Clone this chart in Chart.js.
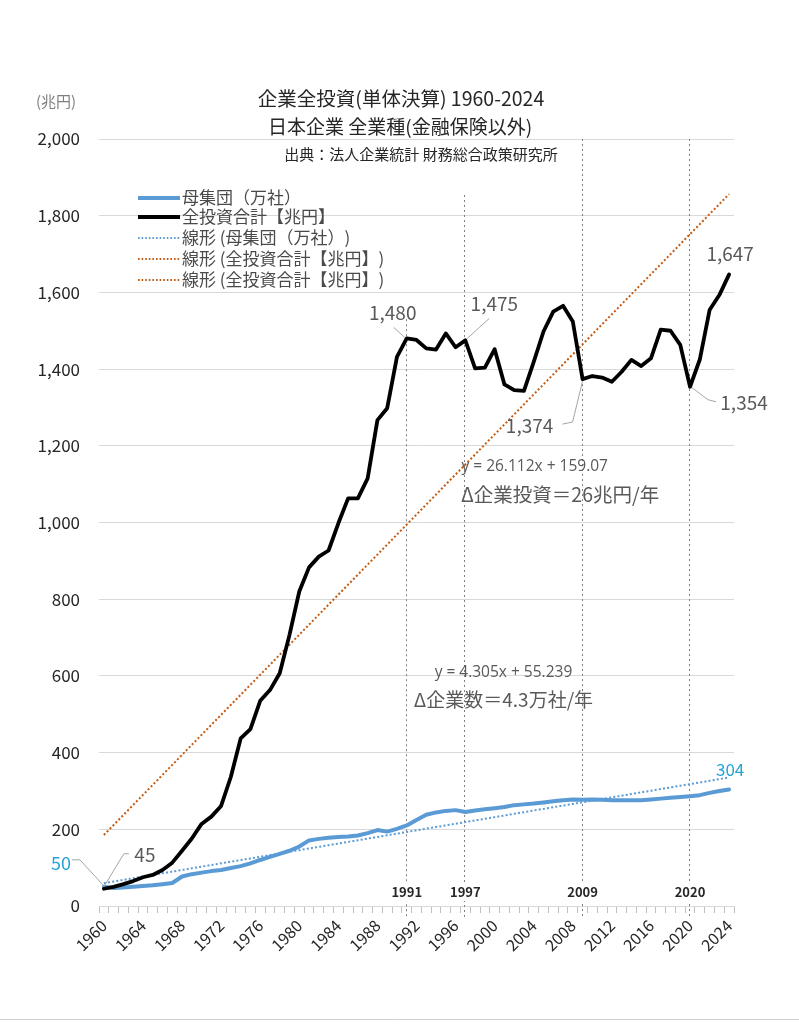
<!DOCTYPE html>
<html><head><meta charset="utf-8">
<script src="https://cdn.jsdelivr.net/npm/chart.js@4.4.1/dist/chart.umd.min.js"></script>
<style>html,body{margin:0;padding:0;background:#fff;}canvas{display:block;}</style>
</head><body>
<canvas id="c" width="799" height="1024"></canvas>
<script>
// ---- data ----
const years = [1960,1961,1962,1963,1964,1965,1966,1967,1968,1969,1970,1971,1972,1973,1974,1975,1976,1977,1978,1979,
  1980,1981,1982,1983,1984,1985,1986,1987,1988,1989,1990,1991,1992,1993,1994,1995,1996,1997,1998,1999,
  2000,2001,2002,2003,2004,2005,2006,2007,2008,2009,2010,2011,2012,2013,2014,2015,2016,2017,2018,2019,
  2020,2021,2022,2023,2024];
const investTotal = [45,50,57,65,75,81,94,113,144,176,214,233,261,337,437,461,535,563,607,707,
  820,883,911,927,998,1063,1063,1115,1267,1298,1432,1480,1476,1454,1451,1493,1457,1475,1402,1404,
  1452,1360,1345,1343,1419,1498,1550,1565,1524,1374,1382,1378,1367,1393,1424,1408,1428,1503,1500,1463,
  1354,1425,1554,1593,1647];
const firmCount = [50,47,48,50,52,54,57,60,77,83,87,91,94,99,104,111,120,128,136,144,
  155,171,175,178,180,181,184,190,198,194,201,210,224,238,244,248,250,245,249,252,
  255,258,263,265,267,270,273,276,278,277,278,277,276,276,276,276,278,280,282,284,
  286,289,295,300,304];
const investTrendCoef = [26.112, 159.07];   // slope, intercept (Excel x = 1..n)
const firmTrendCoef = [4.305, 55.239];
const yTicks = [0,200,400,600,800,1000,1200,1400,1600,1800,2000];
const markYears = [1991,1997,2009,2020];
const legendLabels = ['母集団（万社）','全投資合計【兆円】','線形 (母集団（万社）)','線形 (全投資合計【兆円】)','線形 (全投資合計【兆円】)'];

const investTrend = years.map((_, i) => investTrendCoef[0]*(i+1) + investTrendCoef[1]);
const firmTrend = years.map((_, i) => firmTrendCoef[0]*(i+1) + firmTrendCoef[1]);

const FONT = '"Noto Sans CJK JP", "Noto Sans", sans-serif';
const LATIN = '"Open Sans", "Noto Sans CJK JP", sans-serif';
const BLUE = '#5b9bd5', BLACK = '#000000', ORANGE = '#c55a11', CYAN = '#27a3d6';
const GRAY_TXT = '#595959';

function fmt(v){ return v.toLocaleString('en-US'); }

const overlay = {
  id: 'overlay',
  beforeDatasetsDraw(chart){
    const {ctx, chartArea: a, scales:{x, y}} = chart;
    ctx.save();
    ctx.strokeStyle = '#7f7f7f'; ctx.lineWidth = 1; ctx.setLineDash([2,3]);
    const tops = {1991: 1530, 1997: 1854, 2009: 2000, 2020: 2000};
    markYears.forEach(yr => {
      const px = Math.round(x.getPixelForValue(years.indexOf(yr))) - 0.5;
      ctx.beginPath();
      ctx.moveTo(px, y.getPixelForValue(tops[yr]));
      ctx.lineTo(px, a.bottom + 12);
      ctx.stroke();
    });
    ctx.setLineDash([]);
    ctx.font = '600 13px ' + FONT; ctx.textAlign = 'center'; ctx.textBaseline = 'middle';
    markYears.forEach(yr => {
      const px = x.getPixelForValue(years.indexOf(yr));
      const w = ctx.measureText(String(yr)).width;
      ctx.fillStyle = '#fff';
      ctx.fillRect(px - w/2 - 2, a.bottom - 23, w + 4, 18);
      ctx.fillStyle = '#262626';
      ctx.fillText(String(yr), px, a.bottom - 14);
    });
    ctx.restore();
  },
  afterDraw(chart){
    const {ctx, chartArea: a, scales:{x, y}} = chart;
    const x0 = x.getPixelForValue(0), step = x.getPixelForValue(1) - x0;
    const P = (i, v) => [x0 + i*step, y.getPixelForValue(v)];
    ctx.save();
    ctx.textAlign = 'center'; ctx.textBaseline = 'middle';
    ctx.fillStyle = '#262626';
    ctx.font = '19.5px ' + FONT;
    ctx.fillText('企業全投資(単体決算) 1960-2024', 401, 99);
    ctx.font = '19px ' + FONT;
    ctx.fillText('日本企業 全業種(金融保険以外)', 400, 127);
    ctx.font = '15px ' + FONT;
    ctx.fillText('出典：法人企業統計 財務総合政策研究所', 421, 154);
    ctx.fillStyle = '#7f7f7f'; ctx.font = '15px ' + FONT;
    ctx.fillText('(兆円)', 56, 101);

    // legend
    const lg = [
      {c: BLUE, w: 4, dash: []},
      {c: BLACK, w: 4, dash: []},
      {c: BLUE, w: 1.8, dash: [1.6,2]},
      {c: ORANGE, w: 1.8, dash: [1.6,2]},
      {c: ORANGE, w: 1.8, dash: [1.6,2]},
    ];
    const ly = [198, 217, 238, 259, 280];
    ctx.textAlign = 'left'; ctx.font = '17px ' + FONT;
    lg.forEach((s, k) => {
      ctx.strokeStyle = s.c; ctx.lineWidth = s.w; ctx.setLineDash(s.dash);
      ctx.beginPath(); ctx.moveTo(138, ly[k]); ctx.lineTo(180, ly[k]); ctx.stroke();
      ctx.setLineDash([]);
      ctx.fillStyle = '#4a4a4a';
      ctx.fillText(legendLabels[k], 182, ly[k]);
    });

    // data labels with leaders
    ctx.lineWidth = 1; ctx.strokeStyle = '#a6a6a6';
    const lab = (i, v, text, dx, dy, color, leader, size) => {
      const [px, py] = P(i, v);
      if (leader) {
        ctx.beginPath();
        leader.forEach((pt, k) => { const f = k ? 'lineTo' : 'moveTo'; ctx[f](px + pt[0], py + pt[1]); });
        ctx.stroke();
      }
      ctx.fillStyle = color; ctx.font = (size || 19) + 'px ' + FONT;
      ctx.textAlign = 'center'; ctx.textBaseline = 'middle';
      ctx.fillText(text, px + dx, py + dy);
    };
    const iy = yr => years.indexOf(yr);
    lab(iy(1991), investTotal[iy(1991)], fmt(investTotal[iy(1991)]), -14, -26, GRAY_TXT, [[-13,-11],[-2,-1]]);
    lab(iy(1997), investTotal[iy(1997)], fmt(investTotal[iy(1997)]), 29, -37, GRAY_TXT, [[24,-22],[2,-2]]);
    lab(iy(2009), investTotal[iy(2009)], fmt(investTotal[iy(2009)]), -53, 47, GRAY_TXT, [[-20,45],[-10,43],[0,2]]);
    lab(iy(2020), investTotal[iy(2020)], fmt(investTotal[iy(2020)]), 54, 16, GRAY_TXT, [[26,15],[18,13],[2,1]]);
    lab(iy(2024), investTotal[iy(2024)], fmt(investTotal[iy(2024)]), 1, -21, GRAY_TXT, null);
    lab(0, investTotal[0], fmt(investTotal[0]), 41, -34, GRAY_TXT, [[25,-35],[20,-35],[0,-2]]);
    lab(0, firmCount[0], fmt(firmCount[0]), -43, -24, CYAN, [[-32,-27],[-24,-27],[-1,-2]], 18);
    lab(iy(2024), firmCount[iy(2024)], fmt(firmCount[iy(2024)]), 1, -20, CYAN, null, 17);

    const txt = (i, v, s, font) => {
      const [px, py] = P(i, v);
      ctx.fillStyle = GRAY_TXT; ctx.font = font;
      ctx.textAlign = 'center'; ctx.textBaseline = 'middle';
      ctx.fillText(s, px, py);
    };
    txt(44.1, 1145, 'y = 26.112x + 159.07', '15.5px ' + LATIN);
    txt(46.7, 1074, 'Δ企業投資＝26兆円/年', '19.5px ' + FONT);
    txt(40.9, 608, 'y = 4.305x + 55.239', '15.5px ' + LATIN);
    txt(40.9, 537, 'Δ企業数＝4.3万社/年', '19px ' + FONT);

    ctx.strokeStyle = '#d0d0d0'; ctx.lineWidth = 1;
    ctx.beginPath(); ctx.moveTo(0, 1019.5); ctx.lineTo(799, 1019.5); ctx.stroke();
    ctx.restore();
  }
};

const bg = {
  id: 'bg',
  beforeDraw(chart){ const c = chart.ctx; c.save(); c.fillStyle = '#fff'; c.fillRect(0,0,chart.width,chart.height); c.restore(); }
};

new Chart(document.getElementById('c'), {
  type: 'line',
  data: {
    labels: years.map(String),
    datasets: [
      {label: legendLabels[1], data: investTotal, borderColor: BLACK, borderWidth: 3.8, pointRadius: 0, tension: 0, borderJoinStyle: 'round', borderCapStyle: 'round'},
      {label: legendLabels[0], data: firmCount, borderColor: BLUE, borderWidth: 4, pointRadius: 0, tension: 0, borderJoinStyle: 'round', borderCapStyle: 'round'},
      {label: legendLabels[2], data: firmTrend, borderColor: BLUE, borderWidth: 2, borderDash: [2,2.2], pointRadius: 0},
      {label: legendLabels[3], data: investTrend, borderColor: ORANGE, borderWidth: 2, borderDash: [2,2.2], pointRadius: 0},
    ]
  },
  options: {
    responsive: false, animation: false,
    layout: {padding: {top: 139, right: 65, left: 0, bottom: 0}},
    plugins: {legend: {display: false}, tooltip: {enabled: false}, title: {display: false}},
    scales: {
      x: {
        type: 'category', offset: true,
        grid: {offset: true, drawOnChartArea: false, drawTicks: true, tickLength: 7, color: '#bfbfbf'},
        border: {display: true, color: '#d9d9d9'},
        ticks: {autoSkip: false, minRotation: 45, maxRotation: 45, padding: 3, color: '#262626',
          font: {family: FONT, size: 16},
          callback: function(v, i){ return (years[i] - years[0]) % 4 === 0 ? String(years[i]) : ''; }},
        afterFit: s => { s.height = 118; }
      },
      y: {
        min: 0, max: 2000,
        afterBuildTicks: s => { s.ticks = yTicks.map(v => ({value: v})); },
        grid: {color: '#d9d9d9', drawTicks: false, lineWidth: 1},
        border: {display: false},
        ticks: {padding: 19, color: '#262626', font: {family: FONT, size: 17}, callback: v => fmt(v)},
        afterFit: s => { s.width = 99; }
      }
    }
  },
  plugins: [bg, overlay]
});
</script>
</body></html>
